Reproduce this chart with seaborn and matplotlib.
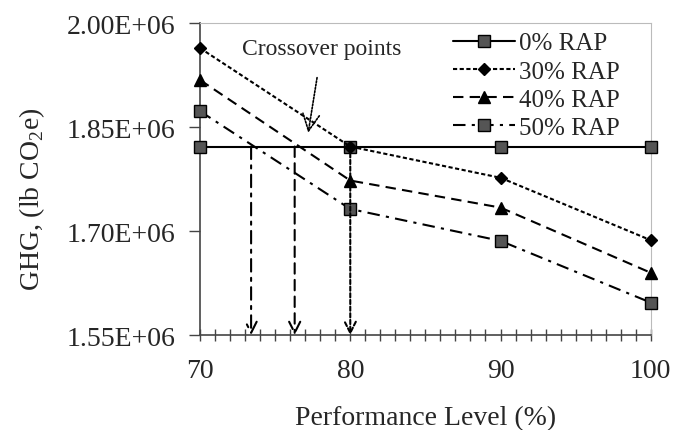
import numpy as np
import pandas as pd
import matplotlib
matplotlib.use("Agg")
import matplotlib.pyplot as plt
import seaborn as sns
from matplotlib.ticker import MultipleLocator, FixedLocator, FuncFormatter

# data
levels = [70, 80, 90, 100]
rap_0 = [1.822e6, 1.822e6, 1.822e6, 1.822e6]
rap_30 = [1.964e6, 1.822e6, 1.777e6, 1.687e6]
rap_40 = [1.918e6, 1.773e6, 1.734e6, 1.640e6]
rap_50 = [1.873e6, 1.732e6, 1.686e6, 1.597e6]
series_names = ["0% RAP", "30% RAP", "40% RAP", "50% RAP"]
y_ticks = [1.55e6, 1.70e6, 1.85e6, 2.00e6]

# crossover levels (50%, 40%, 30%)
cross_x = [73.4, 76.3, 80.0]
cross_styles = [(0, (6, 3, 1.5, 3)), (0, (5, 3)), (0, (2, 1.2))]

sns.set_style("white")
plt.rcParams["font.family"] = ["Liberation Serif", "DejaVu Serif"]
plt.rcParams["mathtext.fontset"] = "custom"
plt.rcParams["mathtext.rm"] = "Liberation Serif"

fig = plt.figure(figsize=(6.85, 4.31), dpi=100)
ax = fig.add_axes([0.292, 0.220, 0.658, 0.724])

styles = {
    "0% RAP": dict(ls="-", marker="s", mfc="#555555", ms=8),
    "30% RAP": dict(ls=(0, (2, 1.2)), marker="D", mfc="black", ms=6),
    "40% RAP": dict(ls=(0, (5, 3)), marker="^", mfc="black", ms=8),
    "50% RAP": dict(ls=(0, (6, 3, 1.5, 3)), marker="s", mfc="#555555", ms=8),
}

df = pd.DataFrame({"level": levels * 4,
                   "ghg": rap_0 + rap_30 + rap_40 + rap_50,
                   "series": np.repeat(series_names, len(levels))})

for name in series_names:
    st = styles[name]
    sub = df[df["series"] == name]
    sns.lineplot(data=sub, x="level", y="ghg", ax=ax, color="black",
                 linestyle=st["ls"], marker=st["marker"], markersize=st["ms"],
                 markerfacecolor=st["mfc"], markeredgecolor="black",
                 markeredgewidth=1.0, linewidth=1.5, label=name,
                 clip_on=False, zorder=3)

# vertical arrows from crossover points
for cx, cs in zip(cross_x, cross_styles):
    ax.annotate("", xy=(cx, 1.55e6), xytext=(cx, rap_0[0]),
                arrowprops=dict(arrowstyle="->,head_length=0.8,head_width=0.4",
                                color="black", lw=1.5, linestyle=cs,
                                shrinkA=0, shrinkB=0))

ax.annotate("Crossover points", xy=(77.2, 1.842e6), xytext=(78.1, 1.963e6),
            ha="center", va="center", fontsize=17,
            arrowprops=dict(arrowstyle="->,head_length=0.7,head_width=0.35",
                            color="black", lw=1.2, linestyle=(0, (1, 1)),
                            shrinkA=11, shrinkB=0))

ax.set_xlim(70, 100)
ax.set_ylim(1.55e6, 2.00e6)
ax.xaxis.set_major_locator(MultipleLocator(10))
ax.xaxis.set_minor_locator(MultipleLocator(1))
ax.yaxis.set_major_locator(FixedLocator(y_ticks))
ax.yaxis.set_major_formatter(FuncFormatter(lambda v, p: f"{v/1e6:.2f}E+06"))

ax.tick_params(axis="x", which="both", bottom=True, direction="inout",
               length=9, width=1, color="#444444", labelsize=20, pad=12)
ax.tick_params(axis="y", which="major", left=True, direction="out", length=8,
               width=1, color="#444444", labelsize=20, pad=10)

ax.set_xlabel("Performance Level (%)", fontsize=20, labelpad=16)
ax.set_ylabel("GHG, (lb CO$_2$e)", fontsize=20)
ax.yaxis.set_label_coords(-0.34, 0.44)

for side in ["left", "bottom"]:
    ax.spines[side].set_color("#444444")
    ax.spines[side].set_linewidth(1.2)
for side in ["top", "right"]:
    ax.spines[side].set_color("#bbbbbb")
    ax.spines[side].set_linewidth(0.8)

leg = ax.legend(loc="upper right", frameon=False, fontsize=18,
                handlelength=2.5, handletextpad=0.15, labelspacing=0.23,
                bbox_to_anchor=(0.965, 1.02), borderaxespad=0.2)

fig.savefig("out.png", dpi=100)
